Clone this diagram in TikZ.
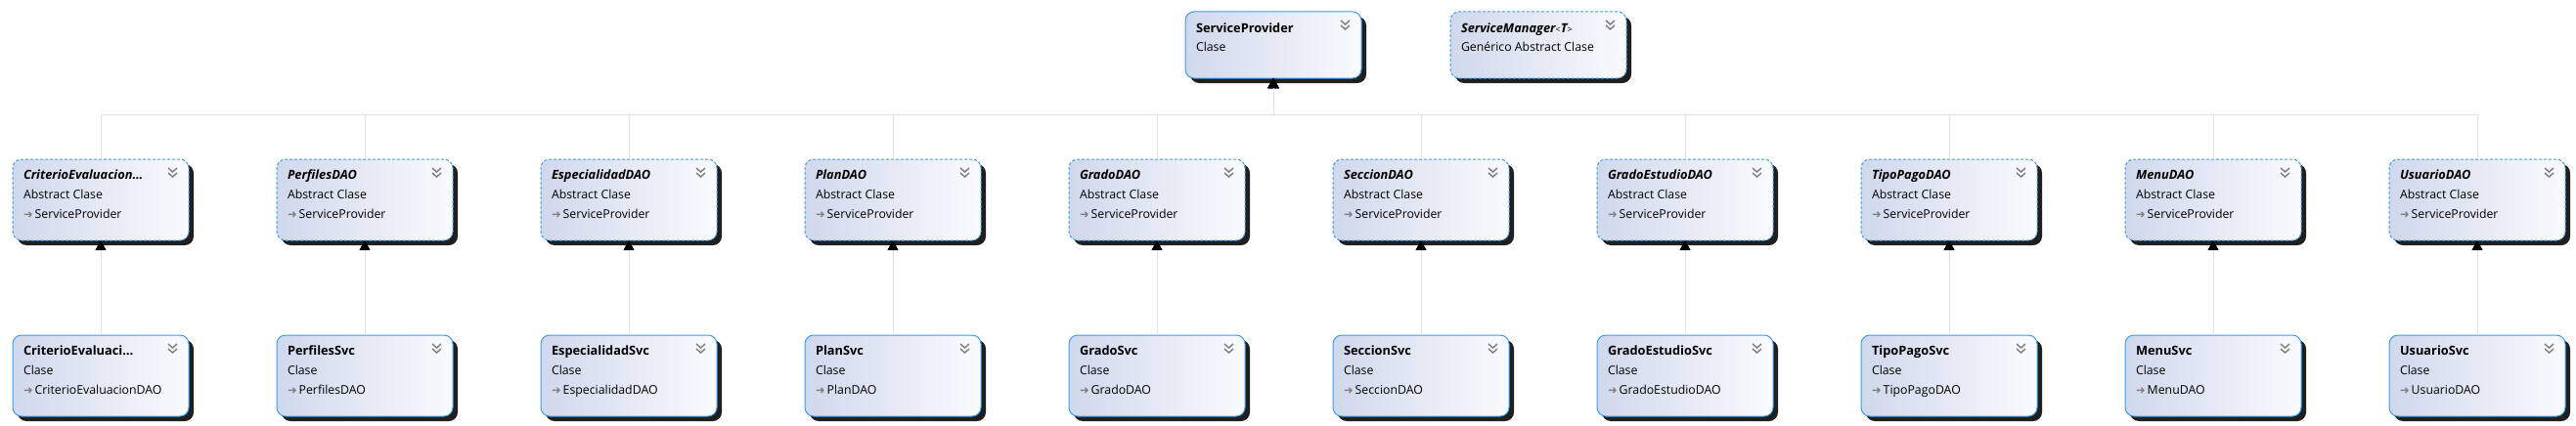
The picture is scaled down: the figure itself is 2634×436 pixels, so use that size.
\documentclass[tikz,border=0pt]{standalone}
\usepackage{fontspec}
\setmainfont{Open Sans}
\newfontfamily\symfont{DejaVu Sans}
\usetikzlibrary{positioning,shadows,arrows.meta}

\definecolor{boxleft}{RGB}{208,216,236}
\definecolor{boxright}{RGB}{250,251,254}
\definecolor{boxborder}{RGB}{61,156,240}
\definecolor{linkgray}{RGB}{226,226,226}
\definecolor{chevgray}{RGB}{125,125,125}

\newcommand{\inh}{{\symfont\color{chevgray}\fontsize{11.5}{11.5}\selectfont ➜}\,}
\newcommand{\abstxt}[2]{\parbox[c][83pt][t]{158pt}{\rule{0pt}{20pt}{\fontsize{12.8}{20}\selectfont\bfseries\itshape #1}\\Abstract Clase\\\inh #2}}
\newcommand{\clstxt}[2]{\parbox[c][83pt][t]{158pt}{\rule{0pt}{20pt}{\fontsize{12.8}{20}\selectfont\bfseries #1}\\Clase\\\inh #2}}

\tikzset{
	umlbox/.style={rectangle, rounded corners=9pt, inner xsep=11pt, inner ysep=0pt, outer sep=0pt,
		left color=boxleft, right color=boxright, draw=boxborder, line width=1pt,
		font=\fontsize{12.3}{20}\selectfont,
		drop shadow={shadow xshift=5pt, shadow yshift=-5pt, fill=black!88, opacity=1},
		path picture={
			\draw[chevgray, line width=1.4pt, sharp corners, solid]
				([shift={(-21pt,-9pt)}]path picture bounding box.north east) -- ++(4.5pt,-4pt) -- ++(4.5pt,4pt);
			\draw[chevgray, line width=1.4pt, sharp corners, solid]
				([shift={(-21pt,-14pt)}]path picture bounding box.north east) -- ++(4.5pt,-4pt) -- ++(4.5pt,4pt);
		}},
	absbox/.style={umlbox, dash pattern=on 3pt off 2pt},
	genline/.style={draw=linkgray, line width=1pt, -{Triangle[length=10pt,width=11pt,color=black]}}
}

\begin{document}
\begin{tikzpicture}[x=1pt, y=1pt]
	\useasboundingbox (0,0) rectangle (2634,-436);

	\node[umlbox]  (sp)  at (1302,-46) {\parbox[c][68pt][t]{158pt}{\rule{0pt}{21pt}{\fontsize{12.8}{20}\selectfont\bfseries ServiceProvider}\\Clase}};
	\node[absbox]  (mgr) [right=91pt of sp] {\parbox[c][68pt][t]{158pt}{\rule{0pt}{21pt}{\fontsize{12.8}{20}\selectfont\bfseries\itshape ServiceManager}{\fontsize{9}{9}\selectfont<}{\fontsize{12.8}{20}\selectfont\bfseries\itshape T}{\fontsize{9}{9}\selectfont>}\\Genérico Abstract Clase}};

	\coordinate[below=37pt of sp] (bus);

	% abstract DAO row
	\node[absbox] (dao1)  at (103,-204.5)     {\abstxt{CriterioEvaluacion…}{ServiceProvider}};
	\node[absbox] (dao2)  [right=90pt of dao1] {\abstxt{PerfilesDAO}{ServiceProvider}};
	\node[absbox] (dao3)  [right=90pt of dao2] {\abstxt{EspecialidadDAO}{ServiceProvider}};
	\node[absbox] (dao4)  [right=90pt of dao3] {\abstxt{PlanDAO}{ServiceProvider}};
	\node[absbox] (dao5)  [right=90pt of dao4] {\abstxt{GradoDAO}{ServiceProvider}};
	\node[absbox] (dao6)  [right=90pt of dao5] {\abstxt{SeccionDAO}{ServiceProvider}};
	\node[absbox] (dao7)  [right=90pt of dao6] {\abstxt{GradoEstudioDAO}{ServiceProvider}};
	\node[absbox] (dao8)  [right=90pt of dao7] {\abstxt{TipoPagoDAO}{ServiceProvider}};
	\node[absbox] (dao9)  [right=90pt of dao8] {\abstxt{MenuDAO}{ServiceProvider}};
	\node[absbox] (dao10) [right=90pt of dao9] {\abstxt{UsuarioDAO}{ServiceProvider}};

	\draw[genline] (dao1.north)  |- (bus) -- (sp.south);
	\draw[genline] (dao2.north)  |- (bus) -- (sp.south);
	\draw[genline] (dao3.north)  |- (bus) -- (sp.south);
	\draw[genline] (dao4.north)  |- (bus) -- (sp.south);
	\draw[genline] (dao5.north)  |- (bus) -- (sp.south);
	\draw[genline] (dao6.north)  |- (bus) -- (sp.south);
	\draw[genline] (dao7.north)  |- (bus) -- (sp.south);
	\draw[genline] (dao8.north)  |- (bus) -- (sp.south);
	\draw[genline] (dao9.north)  |- (bus) -- (sp.south);
	\draw[genline] (dao10.north) |- (bus) -- (sp.south);

	% service row
	\node[umlbox] (svc1)  [below=97pt of dao1]  {\clstxt{CriterioEvaluaci…}{CriterioEvaluacionDAO}};
	\node[umlbox] (svc2)  [below=97pt of dao2]  {\clstxt{PerfilesSvc}{PerfilesDAO}};
	\node[umlbox] (svc3)  [below=97pt of dao3]  {\clstxt{EspecialidadSvc}{EspecialidadDAO}};
	\node[umlbox] (svc4)  [below=97pt of dao4]  {\clstxt{PlanSvc}{PlanDAO}};
	\node[umlbox] (svc5)  [below=97pt of dao5]  {\clstxt{GradoSvc}{GradoDAO}};
	\node[umlbox] (svc6)  [below=97pt of dao6]  {\clstxt{SeccionSvc}{SeccionDAO}};
	\node[umlbox] (svc7)  [below=97pt of dao7]  {\clstxt{GradoEstudioSvc}{GradoEstudioDAO}};
	\node[umlbox] (svc8)  [below=97pt of dao8]  {\clstxt{TipoPagoSvc}{TipoPagoDAO}};
	\node[umlbox] (svc9)  [below=97pt of dao9]  {\clstxt{MenuSvc}{MenuDAO}};
	\node[umlbox] (svc10) [below=97pt of dao10] {\clstxt{UsuarioSvc}{UsuarioDAO}};

	\draw[genline] (svc1)  -- (dao1);
	\draw[genline] (svc2)  -- (dao2);
	\draw[genline] (svc3)  -- (dao3);
	\draw[genline] (svc4)  -- (dao4);
	\draw[genline] (svc5)  -- (dao5);
	\draw[genline] (svc6)  -- (dao6);
	\draw[genline] (svc7)  -- (dao7);
	\draw[genline] (svc8)  -- (dao8);
	\draw[genline] (svc9)  -- (dao9);
	\draw[genline] (svc10) -- (dao10);
\end{tikzpicture}
\end{document}
